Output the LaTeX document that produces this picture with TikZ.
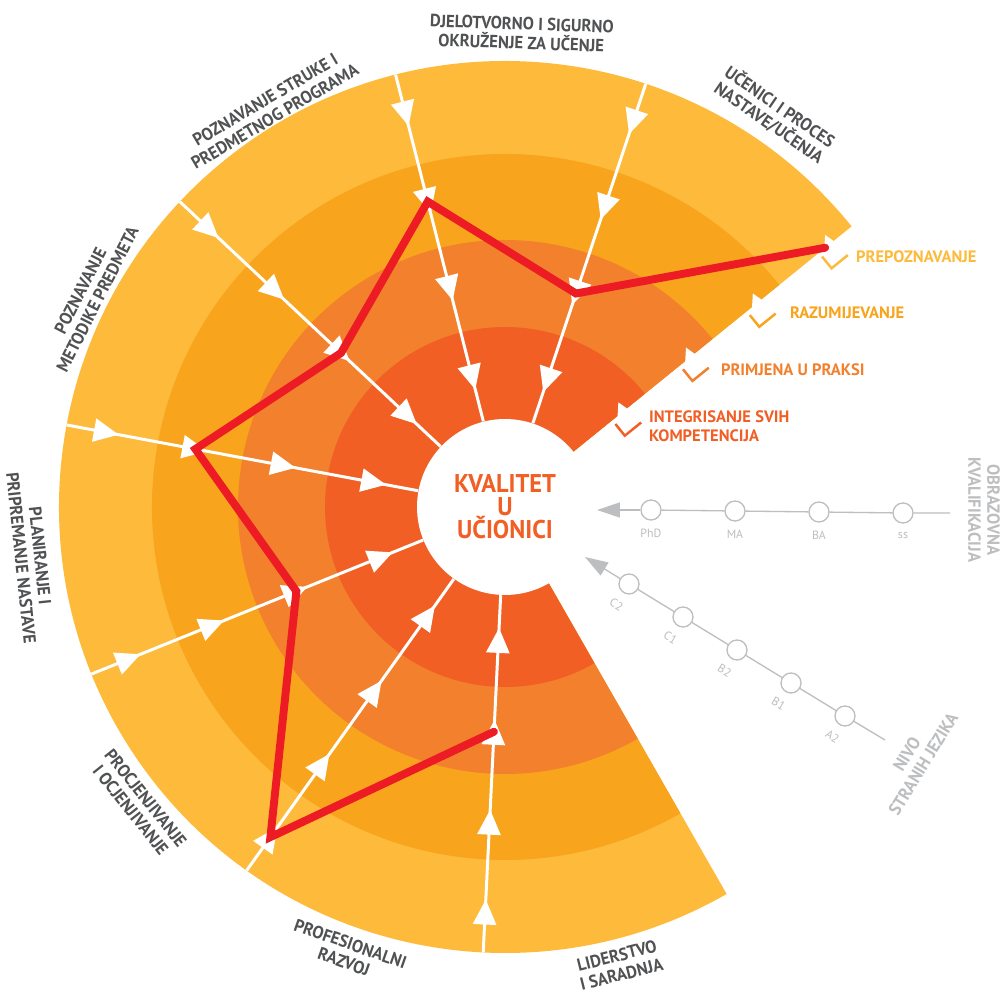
\documentclass[tikz,border=0pt]{standalone}
\usepackage{fontspec}
\setmainfont{PT Sans}
\newfontfamily\labfont[FakeStretch=0.95]{PT Sans}
\usetikzlibrary{arrows.meta,decorations.markings}

\definecolor{ringA}{HTML}{FDBA3B}
\definecolor{ringB}{HTML}{F8A41D}
\definecolor{ringC}{HTML}{F2802C}
\definecolor{ringD}{HTML}{F15F24}
\definecolor{scorered}{HTML}{ED1C24}
\definecolor{textgrey}{HTML}{505153}
\definecolor{lightgrey}{HTML}{BCBEC0}

\tikzset{
  wedge/.tip={Triangle[length=0.5cm,width=0.46cm]},
  spoke/.style={white,line width=1.7pt,postaction={decorate},
    decoration={markings,
      mark=at position 1.06cm with {\arrow{wedge}},
      mark=at position 2.86cm with {\arrow{wedge}},
      mark=at position 4.66cm with {\arrow{wedge}},
      mark=at position 6.5cm with {\arrow{wedge}}}},
  score/.style={draw=scorered,line width=4.5pt,line cap=round},
  tickmark/.style={line width=1.4pt},
  lab/.style={text=textgrey,align=center,inner sep=1pt,font=\labfont\bfseries\fontsize{10}{10.9}\selectfont},
  legend/.style={anchor=west,align=left,inner sep=1pt,font=\bfseries\fontsize{9.4}{11}\selectfont},
  gline/.style={draw=lightgrey,line width=0.75pt},
  gdot/.style={circle,draw=lightgrey,fill=white,line width=0.75pt,minimum size=0.4cm,inner sep=0pt},
  gsmall/.style={text=lightgrey,inner sep=1pt,font=\fontsize{6.8}{8}\selectfont},
  gtitle/.style={text=lightgrey,align=center,inner sep=1pt,font=\labfont\bfseries\fontsize{10}{10.9}\selectfont}
}

\begin{document}
\begin{tikzpicture}[x=0.02cm,y=0.02cm]
    \useasboundingbox (-505,-490) rectangle (496,507);
    \fill[white] (-505,-490) rectangle (496,507);

    % rings, outer to inner
    \fill[ringA] (0,0) -- (39:446) arc[start angle=39,end angle=299.8,radius=446] -- cycle;
    \fill[ringB] (0,0) -- (39:353) arc[start angle=39,end angle=299.8,radius=353] -- cycle;
    \fill[ringC] (0,0) -- (39:267) arc[start angle=39,end angle=299.8,radius=267] -- cycle;
    \fill[ringD] (0,0) -- (39:180) arc[start angle=39,end angle=299.8,radius=180] -- cycle;

    % notches and ticks on the open edge
    \begin{scope}[rotate=39]
      \fill[white] (410,-1) -- (420,10) -- (423,-1) -- cycle;
      \fill[white] (317,-1) -- (327,10) -- (330,-1) -- cycle;
      \fill[white] (231,-1) -- (241,10) -- (244,-1) -- cycle;
      \fill[white] (144,-1) -- (154,10) -- (157,-1) -- cycle;
      \draw[tickmark,ringA] (404,-5) -- (404,-20) -- (425,-20);
      \draw[tickmark,ringB] (311,-5) -- (311,-20) -- (332,-20);
      \draw[tickmark,ringC] (225,-5) -- (225,-20) -- (246,-20);
      \draw[tickmark,ringD] (138,-5) -- (138,-20) -- (159,-20);
    \end{scope}

    % centre
    \node[circle,fill=white,minimum size=3.52cm,inner sep=0pt,text=ringD,align=center,font=\labfont\bfseries\fontsize{14.6}{13.1}\selectfont] (kvalitet) at (0,0) {KVALITET\\U\\UČIONICI};

    % spokes
    \draw[spoke] (71.6:446) -- (kvalitet);
    \draw[spoke] (104.2:446) -- (kvalitet);
    \draw[spoke] (136.8:446) -- (kvalitet);
    \draw[spoke] (169.4:446) -- (kvalitet);
    \draw[spoke] (202:446) -- (kvalitet);
    \draw[spoke] (234.6:446) -- (kvalitet);
    \draw[spoke] (267.2:446) -- (kvalitet);

    % score line
    \draw[score] (39:412) -- (71.6:225) -- (104.2:315) -- (136.8:225) -- (169.4:315) -- (202:225) -- (234.6:405) -- (267.2:225);

    % sector labels
    \node[lab,rotate=-34.5] (ucenici) at (55.5:476) {UČENICI I PROCES\\NASTAVE/UČENJA};
    \node[lab,rotate=-2] (okruzenje) at (88:474) {DJELOTVORNO I SIGURNO\\OKRUŽENJE ZA UČENJE};
    \node[lab,rotate=30.5] (struka) at (120.5:463) {POZNAVANJE STRUKE I\\PREDMETNOG PROGRAMA};
    \node[lab,rotate=63] (metodika) at (153:467) {POZNAVANJE\\METODIKE PREDMETA};
    \node[lab,rotate=-84] (planiranje) at (186:477) {PLANIRANJE I\\PRIPREMANJE NASTAVE};
    \node[lab,rotate=-51.5] (ocjena) at (219:472) {PROCJENJIVANJE\\I OCJENJIVANJE};
    \node[lab,rotate=-19.3] (razvoj) at (250.5:473) {PROFESIONALNI\\RAZVOJ};
    \node[lab,rotate=14] (liderstvo) at (284:472) {LIDERSTVO\\I SARADNJA};

    % levels
    \node[legend,text=ringA] (prep) at (349,250) {PREPOZNAVANJE};
    \node[legend,text=ringB] (razum) at (283,194) {RAZUMIJEVANJE};
    \node[legend,text=ringC] (primjena) at (214,137) {PRIMJENA U PRAKSI};
    \node[legend,text=ringD] (integr) at (142,81) {INTEGRISANJE SVIH\\KOMPETENCIJA};

    % qualification axis
    \coordinate (qend) at (445,-6);
    \coordinate (qtip) at (92,-3);
    \node[gdot] (ss) at (398,-6) {};
    \node[gdot] (ba) at (314,-5) {};
    \node[gdot] (ma) at (230,-4) {};
    \node[gdot] (phd) at (146,-3) {};
    \draw[gline] (qend) -- (ss) -- (ba) -- (ma) -- (phd);
    \draw[gline,-{Triangle[length=0.46cm,width=0.3cm]}] (phd) -- (qtip);
    \node[gsmall] (phdl) at (146,-26) {PhD};
    \node[gsmall] (mal) at (230,-27) {MA};
    \node[gsmall] (bal) at (314,-28) {BA};
    \node[gsmall] (ssl) at (398,-29) {ss};
    \node[gtitle,rotate=-90] (obrazovna) at (479,-3) {OBRAZOVNA\\KVALIFIKACIJA};

    % language axis
    \coordinate (jend) at (380,-233);
    \coordinate (jtip) at (80,-50);
    \node[gdot] (a2) at (340,-209) {};
    \node[gdot] (b1) at (286,-176) {};
    \node[gdot] (b2) at (232,-143) {};
    \node[gdot] (c1) at (178,-110) {};
    \node[gdot] (c2) at (124,-77) {};
    \draw[gline] (jend) -- (a2) -- (b1) -- (b2) -- (c1) -- (c2);
    \draw[gline,-{Triangle[length=0.46cm,width=0.3cm]}] (c2) -- (jtip);
    \node[gsmall,rotate=-31.4] (c2l) at (111.5,-97.5) {C2};
    \node[gsmall,rotate=-31.4] (c1l) at (165.5,-130.5) {C1};
    \node[gsmall,rotate=-31.4] (b2l) at (219.5,-163.5) {B2};
    \node[gsmall,rotate=-31.4] (b1l) at (273.5,-196.5) {B1};
    \node[gsmall,rotate=-31.4] (a2l) at (327.5,-229.5) {A2};
    \node[gtitle,rotate=58.6] (nivo) at (410,-252) {NIVO\\STRANIH JEZIKA};

\end{tikzpicture}
\end{document}
